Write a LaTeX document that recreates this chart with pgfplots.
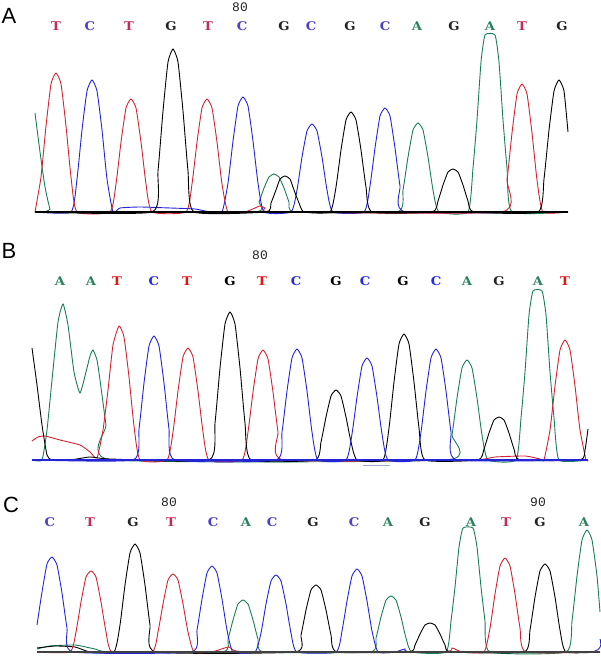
\documentclass[border=0pt]{standalone}
\usepackage{pgfplots}
\pgfplotsset{compat=1.18}
\usepackage{graphicx}
\usepackage{fontspec}
\setmainfont{Liberation Sans}
\newfontfamily\basefont{DejaVu Serif}
\newfontfamily\numfont{Liberation Mono}
\definecolor{tr}{RGB}{210,35,50}
\definecolor{tb}{RGB}{35,35,215}
\definecolor{tg}{RGB}{25,125,85}
\definecolor{lt}{RGB}{195,45,85}
\definecolor{lc}{RGB}{75,65,195}
\definecolor{la}{RGB}{40,130,90}
\definecolor{lg}{RGB}{35,35,35}
\definecolor{bt}{RGB}{230,20,20}
\definecolor{bc}{RGB}{40,40,230}
\newcommand\bcall[2]{\textcolor{#1}{\basefont\bfseries\fontsize{12}{12}\selectfont\scalebox{1.1}[1]{#2}}}
\newcommand\pos[1]{{\numfont\fontsize{13}{13}\selectfont\textcolor{lg}{#1}}}
\pgfplotsset{trace/.style={hide axis, scale only axis, clip=false, anchor=south west},
  tp/.style={smooth, tension=0.3, line width=0.9pt, no markers}}
\begin{document}
\begin{tikzpicture}
\useasboundingbox (0,0) rectangle (600pt,661pt);
% ---------------- Panel A ----------------
\begin{axis}[trace, at={(35pt,449pt)}, width=533pt, height=180pt, xmin=35, xmax=568, ymin=0, ymax=180]
\addplot[tp, color=tg] coordinates {(35,99)(40,60)(45,25)(50,3)(55,0)(253,0)(259,10)(264,24)(269,35)(274,38)(279,35)(284,24)(289,10)(295,0)(397,0)(403,22)(408,55)(413,82)(418,89)(423,82)(428,55)(433,22)(439,0)(468,0)(473,44)(477,92)(481,150)(485,177)(495,177)(499,150)(503,92)(507,44)(512,0)(568,0)};
\addplot[tp, color=tb] coordinates {(35,0)(71,0)(77,33)(82,82)(87,121)(92,132)(97,121)(102,82)(107,33)(113,0)(120,4)(140,5)(170,4)(195,3)(210,0)(222,0)(228,29)(233,71)(238,106)(243,115)(248,106)(253,71)(258,29)(264,0)(291,0)(297,22)(302,55)(307,81)(312,88)(317,81)(322,55)(327,22)(333,0)(364,0)(370,26)(375,64)(380,96)(385,104)(390,96)(395,64)(400,26)(406,0)(568,0)};
\addplot[tp, color=tr] coordinates {(35,0)(41,35)(46,86)(51,128)(56,139)(61,128)(66,86)(71,35)(77,0)(110,0)(116,28)(121,70)(126,104)(131,113)(136,104)(141,70)(146,28)(152,0)(186,0)(192,28)(197,70)(202,104)(207,113)(212,104)(217,70)(222,28)(228,0)(245,0)(255,4)(260,6)(265,4)(275,0)(501,0)(507,32)(512,79)(517,118)(522,128)(527,118)(532,79)(537,32)(543,0)(568,0)};
\addplot[tp, color=black] coordinates {(35,0)(152,0)(158,41)(163,101)(168,150)(173,163)(178,150)(183,101)(188,41)(194,0)(266,0)(271,9)(276,22)(280,33)(285,36)(290,33)(294,22)(299,9)(304,0)(330,0)(336,25)(341,62)(346,92)(351,100)(356,92)(361,62)(366,25)(372,0)(432,0)(438,11)(443,27)(448,40)(453,43)(458,40)(463,27)(468,11)(474,0)(538,0)(544,33)(549,82)(554,121)(559,132)(564,121)(568,80)};
\addplot[black, line width=1.1pt, no markers] coordinates {(35,0)(568,0)};
\end{axis}
\node[anchor=center] at (9pt,645pt) {\fontsize{22}{22}\selectfont A};
\node at (240pt,654pt) {\pos{80}};
\foreach \x/\c/\l in {56/lt/T,90/lc/C,129/lt/T,171/lg/G,208/lt/T,242/lc/C,284/lg/G,311/lc/C,350/lg/G,385/lc/C,417/la/A,454/lg/G,490/la/A,522/lt/T,562/lg/G}
  \node at (\x pt,635pt) {\bcall{\c}{\l}};
% ---------------- Panel B ----------------
\begin{axis}[trace, at={(32pt,201pt)}, width=556pt, height=170pt, xmin=32, xmax=588, ymin=0, ymax=170]
\addplot[tp, color=tg] coordinates {(32,0)(42,0)(47,30)(52,80)(58,138)(63,156)(68,135)(74,88)(80,67)(86,88)(90,104)(93,110)(97,100)(100,80)(106,35)(112,0)(446,0)(452,25)(457,62)(462,92)(467,100)(472,92)(477,62)(482,25)(488,0)(516,0)(521,42)(525,88)(529,145)(533,169)(542,169)(546,145)(550,88)(554,42)(559,0)(588,0)};
\addplot[tp, color=tr] coordinates {(32,19)(38,23)(45,24)(60,20)(80,15)(90,8)(97,2)(103,30)(108,70)(113,115)(119,134)(124,123)(129,83)(134,34)(140,0)(167,0)(173,28)(178,69)(183,103)(188,112)(193,103)(198,69)(203,28)(209,0)(242,0)(248,28)(253,68)(258,101)(263,110)(268,101)(273,68)(278,28)(284,0)(470,0)(495,3)(525,4)(540,1)(544,0)(550,30)(555,74)(560,110)(565,120)(570,110)(575,74)(580,30)(586,0)(588,0)};
\addplot[tp, color=black] coordinates {(32,112)(37,75)(42,35)(47,5)(52,0)(70,0)(90,3)(110,1)(209,0)(215,37)(220,92)(225,136)(230,148)(235,136)(240,92)(245,37)(251,0)(315,0)(321,18)(326,43)(331,64)(336,70)(341,64)(346,43)(351,18)(357,0)(383,0)(389,32)(394,78)(399,116)(404,126)(409,116)(414,78)(419,32)(425,0)(478,0)(484,11)(489,27)(494,40)(499,43)(504,40)(509,27)(514,11)(520,0)(580,0)(585,10)(588,31)};
\addplot[tp, color=tb] coordinates {(32,0)(133,0)(139,31)(144,77)(149,114)(154,124)(159,114)(164,77)(169,31)(175,0)(276,0)(282,28)(287,69)(292,102)(297,111)(302,102)(307,69)(312,28)(318,0)(346,0)(352,26)(357,63)(362,94)(367,102)(372,94)(377,63)(382,26)(388,0)(415,0)(421,28)(426,69)(431,102)(436,111)(441,102)(446,69)(451,28)(457,0)(588,0)};
\addplot[tb, line width=1.1pt, no markers] coordinates {(32,0)(588,0)};
\addplot[color={rgb,255:red,150;green,170;blue,210}, line width=0.8pt, no markers] coordinates {(363,-5)(390,-5)};
\end{axis}
\node[anchor=center] at (9pt,410pt) {\fontsize{22}{22}\selectfont B};
\node at (260pt,406pt) {\pos{80}};
\foreach \x/\c/\l in {60/la/A,91/la/A,117/bt/T,154/bc/C,187/bt/T,230/black/G,262/bt/T,296/bc/C,336/black/G,365/bc/C,403/black/G,436/bc/C,467/la/A,499/lg/G,538/la/A,565/bt/T}
  \node at (\x pt,380pt) {\bcall{\c}{\l}};
% ---------------- Panel C ----------------
\begin{axis}[trace, at={(37pt,9pt)}, width=563pt, height=130pt, xmin=37, xmax=600, ymin=0, ymax=130]
\addplot[tp, color=tg] coordinates {(37,3)(50,6)(75,7)(95,3)(110,0)(222,0)(228,13)(233,32)(238,48)(243,52)(248,48)(253,32)(258,13)(264,0)(370,0)(376,14)(381,35)(386,52)(391,56)(396,52)(401,35)(406,14)(412,0)(446,0)(451,31)(455,65)(459,105)(463,124)(473,124)(477,105)(481,65)(485,31)(490,0)(566,0)(572,31)(577,76)(582,112)(587,122)(592,112)(597,76)(600,40)};
\addplot[tp, color=black] coordinates {(37,4)(55,6)(75,5)(90,0)(114,0)(120,27)(125,67)(130,99)(135,108)(140,99)(145,67)(150,27)(156,0)(295,0)(301,17)(306,42)(311,62)(316,67)(321,62)(326,42)(331,17)(337,0)(409,0)(415,7)(420,18)(425,27)(430,29)(435,27)(440,18)(445,7)(451,0)(524,0)(530,22)(535,55)(540,81)(545,88)(550,81)(555,55)(560,22)(566,0)(600,0)};
\addplot[tp, color=tr] coordinates {(37,0)(70,0)(76,20)(81,50)(86,75)(91,81)(96,75)(101,50)(106,20)(112,0)(152,0)(158,20)(163,48)(168,72)(173,78)(178,72)(183,48)(188,20)(194,0)(212,0)(229,5)(246,0)(440,0)(452,4)(462,0)(484,0)(490,24)(495,58)(500,86)(505,94)(510,86)(515,58)(520,24)(526,0)(600,0)};
\addplot[tp, color=tb] coordinates {(37,27)(42,60)(47,88)(52,95)(57,87)(62,59)(67,24)(73,0)(191,0)(197,22)(202,53)(207,79)(212,86)(217,79)(222,53)(227,22)(233,0)(255,0)(261,19)(266,48)(271,71)(276,77)(281,71)(286,48)(291,19)(297,0)(336,0)(342,21)(347,51)(352,76)(357,83)(362,76)(367,51)(372,21)(378,0)(395,0)(405,3)(415,0)(590,0)(600,13)};
\addplot[black!75, line width=1.1pt, no markers] coordinates {(37,0)(600,0)};
\end{axis}
\node[anchor=center] at (11pt,156pt) {\fontsize{22}{22}\selectfont C};
\node at (169pt,159pt) {\pos{80}};
\node at (538pt,159pt) {\pos{90}};
\foreach \x/\c/\l in {50/lc/C,90/lt/T,133/lg/G,171/lt/T,213/lc/C,246/la/A,272/lc/C,313/lg/G,354/lc/C,388/la/A,425/lg/G,471/la/A,506/lt/T,540/lg/G,584/la/A}
  \node at (\x pt,139pt) {\bcall{\c}{\l}};
\end{tikzpicture}
\end{document}
